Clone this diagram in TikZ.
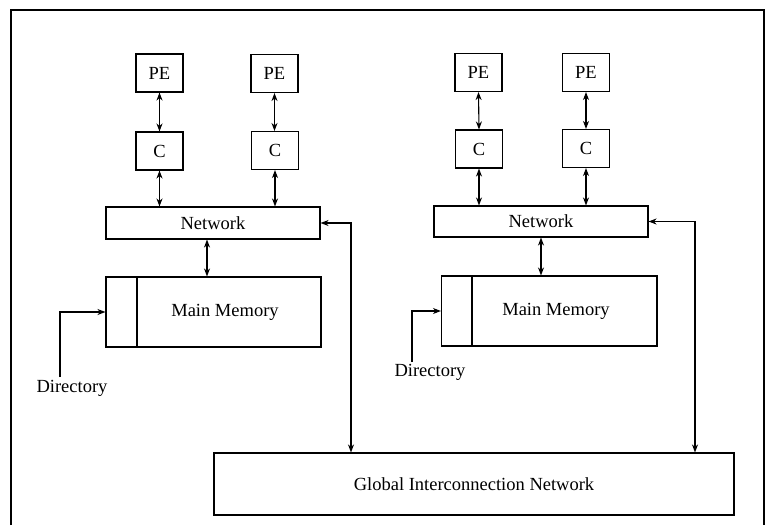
\documentclass[tikz,border=0pt]{standalone}
\usepackage{fontspec}
\setmainfont{Liberation Serif}
\usetikzlibrary{arrows.meta}
\begin{document}
\begin{tikzpicture}[x=1pt,y=-1pt,
  line width=1.1pt,
  font=\fontsize{18.5}{21}\selectfont,
  box/.style={draw, rectangle, inner sep=0pt, minimum width=47pt, minimum height=38pt},
  netbox/.style={draw, rectangle, inner sep=0pt, minimum width=214pt, minimum height=32pt},
  dirbox/.style={draw, rectangle, inner sep=0pt, minimum width=31pt, minimum height=70pt},
  membox/.style={draw, rectangle, inner sep=0pt, minimum height=70pt},
  tip/.tip={Stealth[length=8pt,width=6pt,inset=2.5pt]},
  dbl/.style={tip-tip},
  one/.style={-tip},
  lbl/.style={inner sep=0pt}
]
\useasboundingbox (0,0) rectangle (766,525);
% outer frame
\draw (11,525) -- (11,10) -- (764,10) -- (764,525);

% ---- first cluster ----
\node[box] (pe1) at (159.5,73) {PE};
\node[box] (pe2) at (274.5,73.5) {PE};
\node[box] (c1) at (159.5,151) {C};
\node[box] (c2) at (275,150.5) {C};
\node[netbox] (net1) at (213,223) {Network};
\node[dirbox] (dir1) at (121.5,312) {};
\node[membox, minimum width=184pt] (mem1) at (229,312) {\hspace*{-8pt}Main Memory};
\node[lbl] (dlab1) at (72,388) {Directory};
\coordinate (d1) at (60,377);
\coordinate (a1) at (207,0);

\draw[dbl] (pe1.south) -- (c1.north);
\draw[dbl] (pe2.south) -- (pe2.south |- c2.north);
\draw[dbl] (c1.south) -- (c1.south |- net1.north);
\draw[dbl] (c2.south) -- (c2.south |- net1.north);
\draw[dbl] (net1.south -| a1) -- (mem1.north -| a1);
\draw[one] (d1) |- (dir1.west);

% ---- second cluster ----
\node[box] (pe3) at (478.5,72.5) {PE};
\node[box] (pe4) at (586,72.5) {PE};
\node[box] (c3) at (479,149) {C};
\node[box] (c4) at (586,148.5) {C};
\node[netbox, minimum height=31pt] (net2) at (541,221.5) {Network};
\node[dirbox] (dir2) at (457,311) {};
\node[membox, minimum width=185pt] (mem2) at (564.5,311) {\hspace*{-17pt}Main Memory};
\node[lbl] (dlab2) at (430,372) {Directory};
\coordinate (d2) at (412,362);

\draw[dbl] (pe3.south) -- (c3.north);
\draw[dbl] (pe4.south) -- (c4.north);
\draw[dbl] (c3.south) -- (c3.south |- net2.north);
\draw[dbl] (c4.south) -- (c4.south |- net2.north);
\draw[dbl] (net2.south) -- (net2.south |- mem2.north);
\draw[one] (d2) |- (dir2.west);

% ---- global network ----
\node[draw, rectangle, inner sep=0pt, minimum width=520pt, minimum height=62pt] (glob) at (474,484) {Global Interconnection Network};
\coordinate (g1) at (351,0);
\coordinate (g2) at (695,0);
\draw[dbl] (net1.east) -| (glob.north -| g1);
\draw[dbl] (net2.east) -| (glob.north -| g2);
\end{tikzpicture}
\end{document}
